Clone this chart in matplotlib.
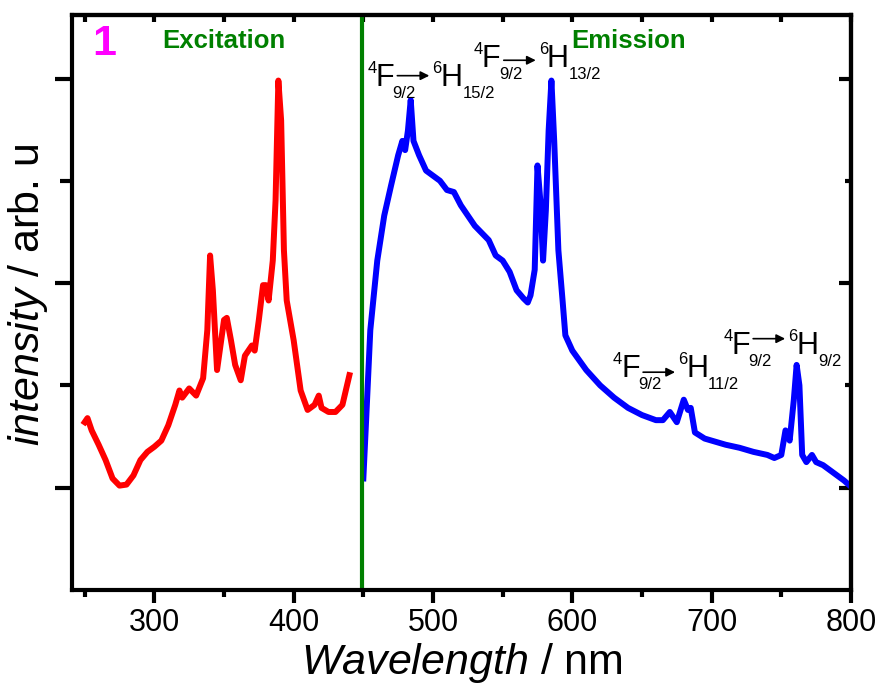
import numpy as np
import matplotlib.pyplot as plt
from matplotlib.ticker import MultipleLocator, FixedLocator
from matplotlib.transforms import offset_copy

plt.rcParams['font.family'] = ['Liberation Sans', 'DejaVu Sans']
plt.rcParams['mathtext.fontset'] = 'custom'
plt.rcParams['mathtext.rm'] = 'Liberation Sans'
plt.rcParams['mathtext.it'] = 'Liberation Sans:italic'

# excitation spectrum (red)
ex_wl = [250, 252, 255, 260, 265, 270, 275, 280, 285, 290, 295, 300, 305, 310, 315, 318,
         320, 325, 330, 335, 338, 340, 342, 345, 350, 352, 355, 358, 362, 365, 370, 372,
         375, 378, 380, 382, 385, 387, 389, 391, 393, 395, 400, 405, 410, 415, 418, 420,
         425, 430, 435, 440]
ex_int = [1.64, 1.68, 1.56, 1.42, 1.27, 1.09, 1.02, 1.03, 1.12, 1.27, 1.35, 1.40, 1.46, 1.61, 1.81, 1.95,
          1.88, 1.97, 1.90, 2.07, 2.54, 3.27, 2.93, 2.15, 2.64, 2.66, 2.44, 2.20, 2.05, 2.29, 2.39, 2.34,
          2.64, 2.98, 2.98, 2.83, 3.22, 3.81, 4.98, 4.59, 3.32, 2.83, 2.44, 1.95, 1.76, 1.81, 1.90, 1.78,
          1.74, 1.74, 1.81, 2.10]

# emission spectrum (blue)
em_wl = [450, 452, 455, 460, 465, 470, 475, 478, 480, 482, 484, 486, 490, 495, 500, 505,
         510, 515, 520, 530, 540, 545, 550, 555, 560, 565, 568, 570, 573, 575, 577, 579,
         581, 583, 585, 587, 590, 593, 595, 600, 610, 620, 630, 640, 650, 660, 665, 670,
         675, 680, 683, 685, 688, 695, 700, 710, 720, 730, 740, 745, 750, 753, 756, 759,
         761, 763, 765, 768, 772, 775, 780, 790, 795, 800]
em_int = [1.09, 1.66, 2.54, 3.22, 3.66, 3.96, 4.25, 4.39, 4.30, 4.49, 4.79, 4.39, 4.25, 4.10, 4.05, 4.00,
          3.91, 3.89, 3.76, 3.56, 3.42, 3.27, 3.22, 3.11, 2.93, 2.85, 2.81, 2.88, 3.13, 4.15, 3.81, 3.22,
          3.71, 4.49, 4.98, 4.39, 3.32, 2.83, 2.49, 2.34, 2.15, 2.00, 1.88, 1.78, 1.71, 1.66, 1.66, 1.74,
          1.64, 1.86, 1.76, 1.78, 1.54, 1.48, 1.46, 1.42, 1.39, 1.35, 1.32, 1.29, 1.32, 1.56, 1.46, 1.86,
          2.20, 2.00, 1.32, 1.25, 1.32, 1.25, 1.22, 1.12, 1.07, 1.01]

# transition labels: (x, y) of the F baseline, upper-level J values
trans_x = [458.6, 535, 635, 714]
trans_y = [4.93, 5.11, 2.08, 2.31]
trans_H = ['15/2', '13/2', '11/2', '9/2']
arrow_dy = [10, 7, 5, 15]

fig = plt.figure(figsize=(8.8, 6.86), dpi=100)
ax = fig.add_axes([0.082, 0.140, 0.885, 0.838])

ax.plot(ex_wl, ex_int, color='#ff0000', lw=4.3, solid_joinstyle='round')
ax.plot(em_wl, em_int, color='#0000ff', lw=4.3, solid_joinstyle='round')
ax.axvline(449, color='#008000', lw=3)

ax.set_xlim(241, 800)
ax.set_ylim(0, 5.62)
ax.xaxis.set_major_locator(MultipleLocator(100))
ax.xaxis.set_minor_locator(MultipleLocator(50))
ax.yaxis.set_major_locator(FixedLocator([1, 3, 5]))
ax.yaxis.set_minor_locator(FixedLocator([2, 4]))
ax.set_yticklabels([])
for s in ax.spines.values():
    s.set_linewidth(3)
ax.tick_params(axis='x', which='major', direction='out', length=9, width=3,
               labelsize=22, pad=4)
ax.tick_params(axis='x', which='minor', direction='out', length=5, width=3)
ax.tick_params(axis='y', which='major', direction='out', length=12, width=3)
ax.tick_params(axis='y', which='minor', direction='out', length=8.5, width=3)

top = ax.secondary_xaxis('top')
top.xaxis.set_major_locator(MultipleLocator(50))
top.tick_params(direction='in', length=5, width=3, labeltop=False)
top.spines['top'].set_linewidth(3)
right = ax.secondary_yaxis('right')
right.yaxis.set_major_locator(FixedLocator([1, 3, 5]))
right.yaxis.set_minor_locator(FixedLocator([2, 4]))
right.tick_params(which='major', direction='in', length=9, width=3, labelright=False)
right.tick_params(which='minor', direction='in', length=4.5, width=3)
right.spines['right'].set_linewidth(3)

ax.set_xlabel(r'$\mathit{Wavelength}$ / nm', fontsize=31, labelpad=2)
ax.set_ylabel(r'$\mathit{intensity}$ / arb. u', fontsize=31)
ax.yaxis.set_label_coords(-0.028, 0.513)

ax.text(0.026, 0.985, '1', transform=ax.transAxes, color='#ff00ff', fontsize=31,
        fontweight='bold', va='top')
ax.text(0.116, 0.975, 'Excitation', transform=ax.transAxes, color='#008000', fontsize=18.5,
        fontweight='bold', va='top')
ax.text(0.641, 0.975, 'Emission', transform=ax.transAxes, color='#008000', fontsize=18.5,
        fontweight='bold', va='top')


def put(x, y, dx, dy, s, size):
    tr = offset_copy(ax.transData, fig=fig, x=dx, y=dy, units='dots')
    ax.text(x, y, s, transform=tr, fontsize=size, va='baseline', ha='left')


for x, y, h, ady in zip(trans_x, trans_y, trans_H, arrow_dy):
    put(x, y, -8, 13, '4', 12)
    put(x, y, 0, 0, 'F', 22)
    put(x, y, 17, -12, '9/2', 12)
    a0 = offset_copy(ax.transData, fig=fig, x=22, y=ady, units='dots')
    a1 = offset_copy(ax.transData, fig=fig, x=54, y=ady, units='dots')
    ax.annotate('', xy=(x, y), xycoords=a1, xytext=(x, y), textcoords=a0,
                arrowprops=dict(arrowstyle='-|>', color='k', lw=1.2,
                                mutation_scale=13, shrinkA=0, shrinkB=0))
    put(x, y, 57, 13, '6', 12)
    put(x, y, 65, 0, 'H', 22)
    put(x, y, 87, -12, h, 12)

fig.savefig('out.png', dpi=100)
